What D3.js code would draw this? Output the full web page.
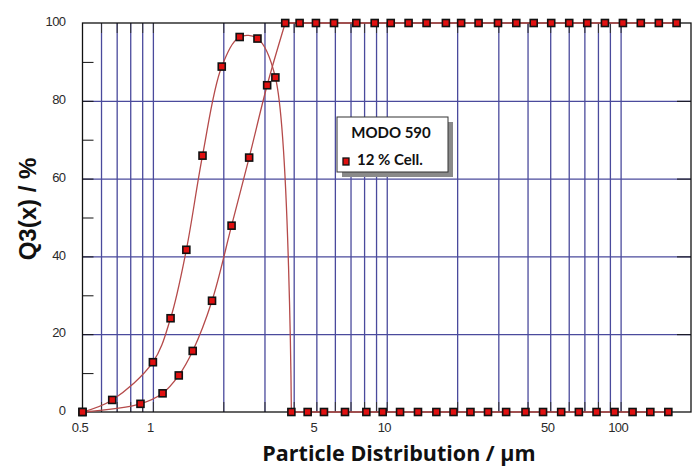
<!DOCTYPE html>
<html>
<head>
<meta charset="utf-8">
<script src="https://cdn.jsdelivr.net/npm/d3@7"></script>
<style>
  body { margin: 0; background: #fff; }
</style>
</head>
<body>
<div id="chart"></div>
<script>
// series A : rises to a peak then drops to zero
const sizeA = [0.5, 0.67, 1.0, 1.19, 1.39, 1.63, 1.97, 2.35, 2.80, 3.34, 3.91, 4.59, 5.39, 6.63, 8.18, 9.61, 11.4, 13.6, 16.3, 19.3, 22.8, 27.1, 32.4, 39.2, 46.6, 55.7, 66.3, 78.9, 94.2, 112.5, 134, 160]
const q3A = [0, 3.1, 12.8, 24.1, 41.7, 65.9, 88.8, 96.4, 96.0, 86.0, 0, 0, 0, 0, 0, 0, 0, 0, 0, 0, 0, 0, 0, 0, 0, 0, 0, 0, 0, 0, 0, 0]
// series B : cumulative curve up to 100
const sizeB = [0.5, 0.885, 1.10, 1.29, 1.48, 1.79, 2.17, 2.58, 3.08, 3.68, 4.24, 4.98, 5.95, 7.41, 8.88, 10.4, 12.4, 14.8, 17.9, 20.8, 24.7, 29.9, 35.8, 42.5, 50.5, 60.3, 72.0, 85.7, 102.3, 122, 145.7, 173.5]
const q3B = [0, 2.1, 4.8, 9.4, 15.7, 28.6, 47.9, 65.4, 84.0, 100, 100, 100, 100, 100, 100, 100, 100, 100, 100, 100, 100, 100, 100, 100, 100, 100, 100, 100, 100, 100, 100, 100]

const gridX = [0.6, 0.7, 0.8, 0.9, 1, 2, 3, 4, 5, 6, 7, 8, 9, 10, 20, 30, 40, 50, 60, 70, 80, 90, 100]
const labelX = [0.5, 1, 5, 10, 50, 100]
const labelY = [0, 20, 40, 60, 80, 100]
const minorY = [10, 30, 50, 70, 90]
const legendTitle = 'MODO 590'
const legendLabel = '12 % Cell.'

const W = 698, H = 468
const margin = { top: 23, right: 7, bottom: 56, left: 82.5 }
const width = W - margin.left - margin.right
const height = H - margin.top - margin.bottom

const gridColor = '#4a4a9c'
const lineColor = '#b54a4a'

const svg = d3.select('#chart').append('svg')
    .attr('width', W)
    .attr('height', H)

const g = svg.append('g').attr('transform', `translate(${margin.left}, ${margin.top})`)

const x = d3.scaleLog().domain([0.5, 200]).range([0, width])
const y = d3.scaleLinear().domain([0, 100]).range([height, 0])

// grid
g.append('g')
    .attr('transform', `translate(0, ${height})`)
    .call(d3.axisBottom(x).tickValues(gridX).tickSize(-height).tickFormat(''))
    .call(a => a.select('.domain').remove())
    .selectAll('line').attr('stroke', gridColor).attr('stroke-width', 1.3)

g.append('g')
    .call(d3.axisLeft(y).tickValues([20, 40, 60, 80]).tickSize(-width).tickFormat(''))
    .call(a => a.select('.domain').remove())
    .selectAll('line').attr('stroke', gridColor).attr('stroke-width', 1.3)

// short dark ticks along the frame
g.append('g')
    .attr('transform', `translate(0, ${height})`)
    .call(d3.axisBottom(x).tickValues(gridX).tickSize(-10).tickFormat(''))
    .call(a => a.select('.domain').remove())
    .selectAll('line').attr('stroke', '#333')
g.append('g')
    .call(d3.axisTop(x).tickValues(gridX).tickSize(-10).tickFormat(''))
    .call(a => a.select('.domain').remove())
    .selectAll('line').attr('stroke', '#333')
g.append('g')
    .call(d3.axisLeft(y).tickValues(minorY.concat([20, 40, 60, 80])).tickSize(-11).tickFormat(''))
    .call(a => a.select('.domain').remove())
    .selectAll('line').attr('stroke', '#111')
g.append('g')
    .attr('transform', `translate(${width}, 0)`)
    .call(d3.axisRight(y).tickValues([20, 40, 60, 80]).tickSize(-14).tickFormat(''))
    .call(a => a.select('.domain').remove())
    .selectAll('line').attr('stroke', '#111')

// frame
g.append('rect')
    .attr('width', width)
    .attr('height', height)
    .attr('fill', 'none')
    .attr('stroke', '#111')
    .attr('stroke-width', 1.3)

// tick labels
const xl = g.append('g')
    .attr('transform', `translate(0, ${height})`)
    .call(d3.axisBottom(x).tickValues(labelX).tickSize(0).tickPadding(11).tickFormat(d3.format('')))
xl.select('.domain').remove()
xl.selectAll('text')
    .attr('font-size', 13)
    .attr('font-family', '"Liberation Sans", Arial, sans-serif')
    .attr('letter-spacing', -0.6)
    .attr('fill', '#2a2a2a')
    .attr('dx', -3)

const yl = g.append('g')
    .call(d3.axisLeft(y).tickValues(labelY).tickSize(0).tickPadding(17))
yl.select('.domain').remove()
yl.selectAll('text')
    .attr('font-size', 13)
    .attr('font-family', '"Liberation Sans", Arial, sans-serif')
    .attr('letter-spacing', -0.6)
    .attr('fill', '#2a2a2a')
    .attr('dy', '0.2em')

// curves: smooth part up to the corner, straight along the frame after it
const smooth = d3.line()
    .x(d => x(d[0]))
    .y(d => y(d[1]))
    .curve(d3.curveCatmullRom.alpha(0.5))
const straight = d3.line()
    .x(d => x(d[0]))
    .y(d => y(d[1]))

const dataA = sizeA.map((s, i) => [s, q3A[i]])
const dataB = sizeB.map((s, i) => [s, q3B[i]])
const cornerA = q3A.indexOf(0, 1)
const cornerB = q3B.indexOf(100)

const pieces = [
    [dataA.slice(0, cornerA + 1), smooth], [dataA.slice(cornerA), straight],
    [dataB.slice(0, cornerB + 1), smooth], [dataB.slice(cornerB), straight]
]
pieces.forEach(([data, gen]) => {
    g.append('path')
        .datum(data)
        .attr('fill', 'none')
        .attr('stroke', lineColor)
        .attr('stroke-width', 1.3)
        .attr('d', gen)
})

;[dataA, dataB].forEach(data => {
    g.append('g')
        .selectAll('rect')
        .data(data)
        .join('rect')
        .attr('x', d => x(d[0]) - 3.5)
        .attr('y', d => y(d[1]) - 3.5)
        .attr('width', 7)
        .attr('height', 7)
        .attr('fill', '#e01010')
        .attr('stroke', '#111')
        .attr('stroke-width', 1.6)
})

// legend
const lg = svg.append('g').attr('transform', 'translate(337, 117)')
lg.append('rect')
    .attr('x', 5).attr('y', 5)
    .attr('width', 111).attr('height', 55)
    .attr('fill', '#8a8a8a')
lg.append('rect')
    .attr('width', 111).attr('height', 55)
    .attr('fill', '#fff')
    .attr('stroke', '#333')
    .attr('stroke-width', 1)
lg.append('text')
    .attr('x', 54).attr('y', 21)
    .attr('text-anchor', 'middle')
    .attr('font-family', 'Lato, sans-serif')
    .attr('font-weight', 'bold')
    .attr('font-size', 15)
    .attr('fill', '#111')
    .text(legendTitle)
lg.append('rect')
    .attr('x', 6).attr('y', 41)
    .attr('width', 6).attr('height', 7)
    .attr('fill', '#e01010')
    .attr('stroke', '#111')
    .attr('stroke-width', 1.3)
lg.append('text')
    .attr('x', 20).attr('y', 48)
    .attr('font-family', 'Lato, sans-serif')
    .attr('font-weight', 'bold')
    .attr('font-size', 15)
    .attr('fill', '#111')
    .text(legendLabel)

// axis titles
svg.append('text')
    .attr('x', 399)
    .attr('y', 461)
    .attr('text-anchor', 'middle')
    .attr('font-family', '"Open Sans", sans-serif')
    .attr('font-weight', 'bold')
    .attr('font-size', 21.5)
    .attr('fill', '#111')
    .text('Particle Distribution / µm')

svg.append('text')
    .attr('transform', 'translate(36, 209) rotate(-90)')
    .attr('text-anchor', 'middle')
    .attr('font-family', '"Liberation Sans", Arial, sans-serif')
    .attr('font-weight', 'bold')
    .attr('font-size', 24)
    .attr('fill', '#111')
    .text('Q3(x) / %')
</script>
</body>
</html>
